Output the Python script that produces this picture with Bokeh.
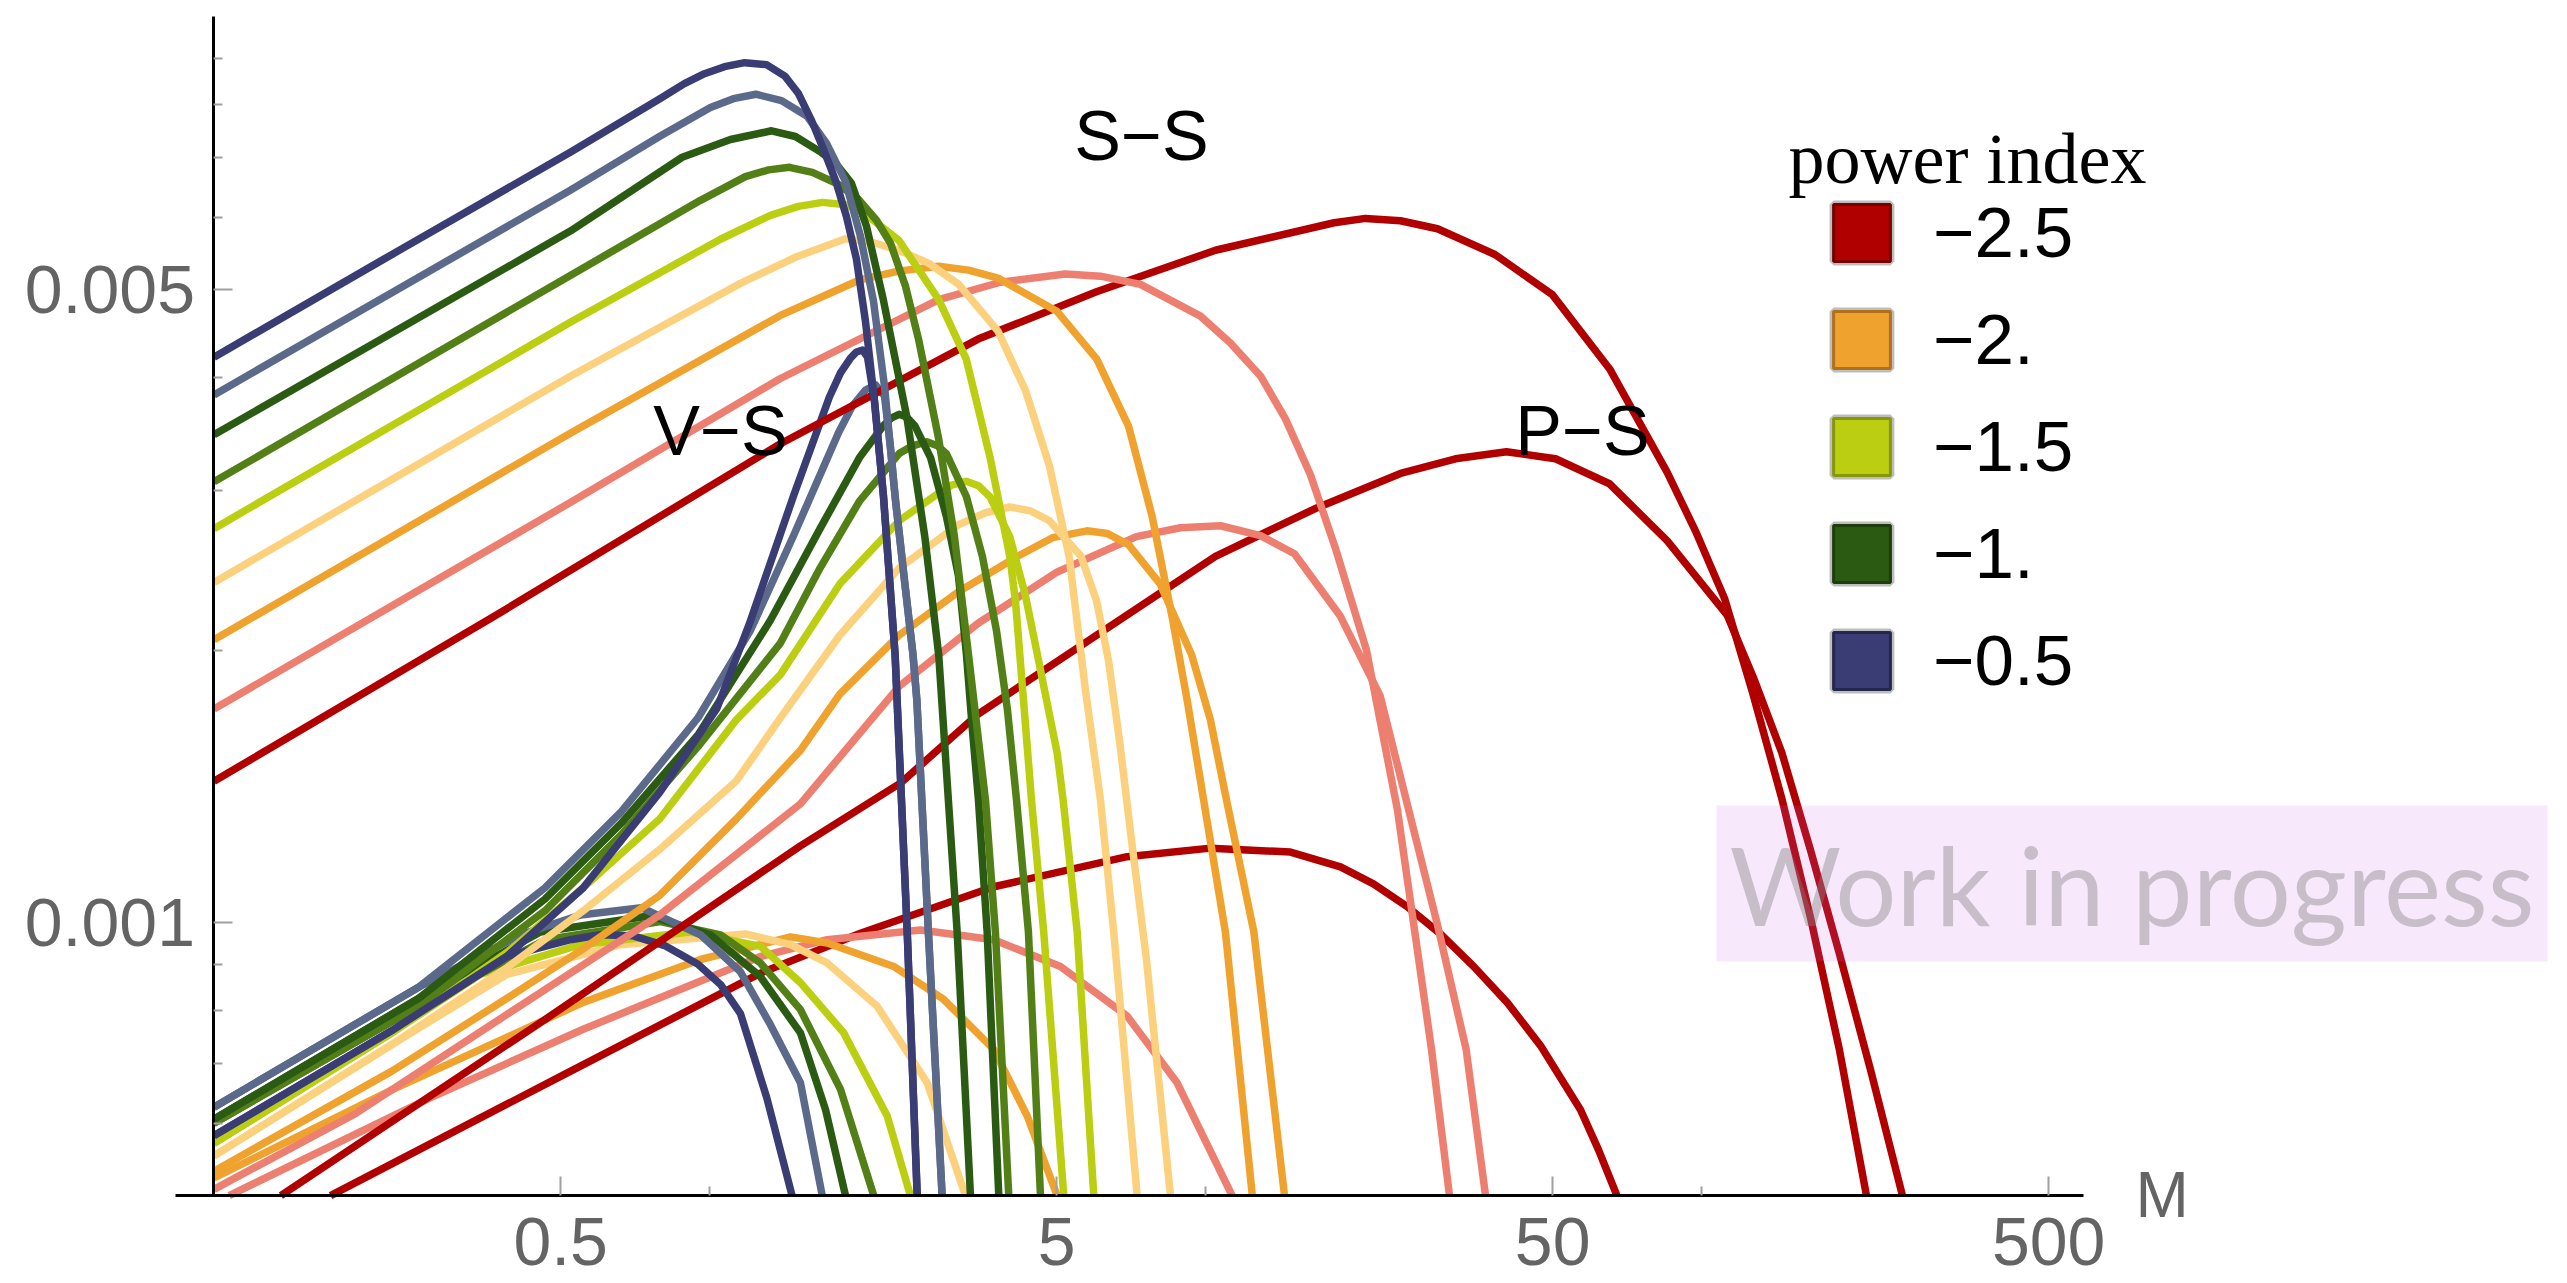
from bokeh.plotting import figure
from bokeh.models import (FixedTicker, CustomJSTickFormatter, Label, Legend,
                          LegendItem, Range1d)
from bokeh.embed import file_html
from bokeh.resources import INLINE

# power indices and their colours
POWER_INDEX = [-2.5, -2.25, -2.0, -1.75, -1.5, -1.25, -1.0, -0.75, -0.5]
COLORS = ["#B00000", "#ED7F71", "#F0A22F", "#FCD17E", "#BCCE12",
          "#537F17", "#2B5B12", "#5B6A8A", "#3A3C74"]

# ---------------- S-S ----------------
SS_M_250 = [0.1, 0.356, 1.387, 3.473, 6.015, 10.45, 18.13, 20.97, 24.67, 29.29, 38.24, 49.92, 65.14, 85.04, 97.0, 111.0, 126.4, 144.9, 165.5, 189.2, 214.6]
SS_Y_250 = [0.001433, 0.002157, 0.003378, 0.004408, 0.004971, 0.005524, 0.005924, 0.005990, 0.005954, 0.005834, 0.005465, 0.004935, 0.004086, 0.003143, 0.002708, 0.002282, 0.001797, 0.001371, 0.001013, 0.000725, 0.0005]
SS_M_225 = [0.1, 0.524, 1.387, 2.892, 3.851, 5.201, 6.128, 7.379, 9.748, 11.20, 12.88, 14.46, 16.24, 18.25, 21.07, 24.33, 28.49, 30.97]
SS_Y_225 = [0.001722, 0.002912, 0.003988, 0.004873, 0.005093, 0.005200, 0.005172, 0.005066, 0.004673, 0.004364, 0.004014, 0.003599, 0.003122, 0.002588, 0.001998, 0.001331, 0.000725, 0.0005]
SS_M_200 = [0.1, 0.524, 1.387, 2.002, 2.399, 2.892, 3.320, 3.807, 5.014, 6.023, 6.979, 7.791, 8.535, 9.165, 10.95, 12.40]
SS_Y_200 = [0.002053, 0.003473, 0.004681, 0.005122, 0.005239, 0.005305, 0.005252, 0.005148, 0.004727, 0.004189, 0.003534, 0.002807, 0.002184, 0.001760, 0.000975, 0.0005]
SS_M_175 = [0.1, 0.524, 1.152, 1.487, 1.876, 2.126, 2.406, 2.757, 3.170, 3.807, 4.326, 4.834, 5.297, 5.716, 6.128, 6.519, 7.266]
SS_Y_175 = [0.002375, 0.004014, 0.005078, 0.005427, 0.005689, 0.005638, 0.005521, 0.005346, 0.005069, 0.004498, 0.003868, 0.003196, 0.002538, 0.001806, 0.001366, 0.000975, 0.0005]
SS_M_150 = [0.1, 0.524, 1.050, 1.324, 1.508, 1.686, 1.876, 2.002, 2.406, 2.892, 3.286, 3.671, 4.022, 4.129, 4.287, 4.449, 4.710, 5.168]
SS_Y_150 = [0.002723, 0.004603, 0.005681, 0.006036, 0.006176, 0.006239, 0.006200, 0.006129, 0.005662, 0.004873, 0.004189, 0.003262, 0.002538, 0.002268, 0.001760, 0.001366, 0.000975, 0.0005]
SS_M_125 = [0.1, 0.524, 0.957, 1.179, 1.312, 1.446, 1.609, 1.816, 1.993, 2.166, 2.312, 2.479, 2.633, 2.889, 3.111, 3.320, 3.593, 3.763, 4.003]
SS_Y_125 = [0.003067, 0.005185, 0.006271, 0.006660, 0.006776, 0.006820, 0.006734, 0.006531, 0.006287, 0.005961, 0.005623, 0.005041, 0.004408, 0.003429, 0.002668, 0.001978, 0.001366, 0.000975, 0.0005]
SS_M_100 = [0.1, 0.524, 0.879, 1.100, 1.331, 1.487, 1.670, 1.799, 1.929, 2.068, 2.236, 2.496, 2.711, 2.892, 3.151, 3.351]
SS_Y_100 = [0.003456, 0.005804, 0.006997, 0.007320, 0.007484, 0.007376, 0.007094, 0.006871, 0.006547, 0.005871, 0.004873, 0.003606, 0.002668, 0.001975, 0.000975, 0.0005]
SS_M_075 = [0.1, 0.524, 0.7925, 1.002, 1.115, 1.237, 1.394, 1.570, 1.718, 1.876, 2.011, 2.136, 2.248, 2.362, 2.467, 2.566, 2.613, 2.757, 2.938]
SS_Y_075 = [0.003825, 0.006439, 0.007379, 0.007940, 0.008121, 0.008213, 0.008080, 0.007766, 0.007246, 0.006580, 0.005724, 0.004855, 0.003913, 0.002953, 0.002387, 0.001978, 0.001760, 0.000975, 0.0005]
SS_M_050 = [0.1, 0.229, 0.524, 0.7925, 0.888, 0.975, 1.070, 1.175, 1.300, 1.416, 1.508, 1.603, 1.694, 1.794, 1.884, 1.974, 2.058, 2.146, 2.238, 2.362, 2.499, 2.617]
SS_Y_050 = [0.00421, 0.00547, 0.00709, 0.00812, 0.008436, 0.008652, 0.008808, 0.008898, 0.008854, 0.00860, 0.008226, 0.00768, 0.007138, 0.00658, 0.00602, 0.005401, 0.004614, 0.003767, 0.002953, 0.001975, 0.000975, 0.0005]

# ---------------- V-S ----------------
VS_M_250 = [0.1364, 0.4647, 1.522, 2.421, 3.473, 6.023, 10.45, 16.53, 24.67, 31.85, 40.35, 50.66, 65.08, 85.04, 112.5, 127.6, 144.9, 165.5, 189.2, 218.6, 253.6]
VS_Y_250 = [0.0005, 0.000782, 0.001216, 0.001426, 0.001700, 0.002077, 0.002538, 0.002862, 0.003133, 0.003252, 0.003310, 0.003252, 0.003052, 0.002641, 0.002184, 0.001852, 0.001540, 0.001203, 0.000925, 0.000689, 0.0005]
VS_M_225 = [0.1, 0.1911, 0.3892, 0.7917, 1.522, 2.406, 3.473, 5.014, 7.240, 8.883, 10.70, 12.88, 15.08, 18.62, 22.44, 25.64, 29.29, 33.46, 36.61]
VS_Y_225 = [0.000508, 0.000614, 0.000792, 0.001020, 0.001353, 0.001824, 0.002141, 0.002439, 0.002668, 0.002729, 0.002743, 0.002675, 0.002555, 0.002184, 0.001781, 0.001331, 0.000995, 0.000725, 0.0005]
VS_M_200 = [0.1, 0.2284, 0.3892, 0.5552, 0.7917, 1.130, 1.522, 1.827, 2.406, 3.170, 4.173, 4.904, 5.754, 6.330, 6.979, 8.082, 9.358, 10.21, 11.00, 12.49, 14.40]
VS_Y_200 = [0.000532, 0.000686, 0.000825, 0.000936, 0.001072, 0.001302, 0.001550, 0.001788, 0.002077, 0.002319, 0.002538, 0.002661, 0.002708, 0.002689, 0.002615, 0.002366, 0.001975, 0.001674, 0.001366, 0.000977, 0.0005]
VS_M_175 = [0.1, 0.2284, 0.3892, 0.5552, 0.7917, 1.130, 1.387, 1.827, 2.406, 3.170, 3.593, 4.022, 4.429, 4.834, 5.598, 6.015, 6.359, 6.692, 7.077, 7.586, 8.480]
VS_Y_175 = [0.000553, 0.000734, 0.000892, 0.001031, 0.001205, 0.001434, 0.001683, 0.002077, 0.002463, 0.002750, 0.002835, 0.002877, 0.002849, 0.002778, 0.002538, 0.002268, 0.001949, 0.001591, 0.001234, 0.000911, 0.0005]
VS_M_150 = [0.1, 0.2284, 0.3892, 0.5552, 0.7917, 1.130, 1.387, 1.827, 2.406, 2.892, 3.082, 3.286, 3.478, 3.671, 4.022, 4.326, 4.659, 5.014, 5.153, 5.500, 5.940]
VS_Y_150 = [0.000571, 0.000756, 0.000927, 0.001093, 0.001302, 0.001675, 0.001879, 0.002366, 0.002778, 0.002980, 0.003044, 0.003071, 0.003037, 0.002951, 0.002668, 0.002296, 0.001879, 0.001538, 0.001366, 0.000977, 0.0005]
VS_M_125 = [0.1, 0.2585, 0.4647, 0.6633, 0.9458, 1.387, 1.667, 2.002, 2.406, 2.560, 2.736, 2.875, 2.998, 3.289, 3.543, 3.780, 3.980, 4.150, 4.386, 4.638]
VS_Y_125 = [0.000601, 0.000809, 0.001031, 0.001252, 0.001565, 0.002036, 0.002463, 0.002920, 0.003295, 0.003361, 0.003395, 0.003361, 0.003294, 0.002953, 0.002536, 0.002103, 0.001716, 0.001366, 0.000977, 0.0005]
VS_M_100 = [0.1, 0.2585, 0.4647, 0.6633, 0.9458, 1.324, 1.667, 2.002, 2.236, 2.323, 2.406, 2.490, 2.589, 2.784, 2.998, 3.170, 3.289, 3.382, 3.478, 3.621, 3.822]
VS_Y_100 = [0.000607, 0.000825, 0.001062, 0.001289, 0.001612, 0.002157, 0.002723, 0.003262, 0.003536, 0.003608, 0.003641, 0.003617, 0.003536, 0.003262, 0.002807, 0.002414, 0.001978, 0.001632, 0.001366, 0.000977, 0.0005]
VS_M_075 = [0.1, 0.2585, 0.4647, 0.6633, 0.9458, 1.207, 1.476, 1.816, 1.938, 2.058, 2.157, 2.248, 2.312, 2.362, 2.467, 2.566, 2.613, 2.757, 2.938]
VS_Y_075 = [0.000626, 0.000849, 0.001093, 0.001327, 0.001683, 0.002103, 0.002679, 0.003475, 0.003720, 0.003873, 0.003923, 0.003815, 0.003344, 0.002953, 0.002387, 0.001978, 0.001760, 0.000975, 0.0005]
VS_M_050 = [0.1, 0.228, 0.389, 0.555, 0.792, 1.033, 1.200, 1.476, 1.741, 1.833, 1.920, 1.974, 2.030, 2.078, 2.146, 2.238, 2.362, 2.499, 2.617]
VS_Y_050 = [0.000582, 0.000760, 0.000918, 0.001093, 0.001393, 0.001725, 0.002136, 0.002966, 0.003805, 0.004045, 0.004200, 0.004266, 0.004287, 0.004210, 0.003767, 0.002953, 0.001975, 0.000975, 0.0005]

# ---------------- P-S ----------------
PS_M_250 = [0.1718, 0.5078, 1.264, 2.011, 3.734, 6.935, 10.21, 14.80, 18.67, 21.76, 25.45, 29.71, 34.66, 40.54, 47.25, 56.89, 61.83, 67.38]
PS_Y_250 = [0.0005, 0.000680, 0.000880, 0.000974, 0.001096, 0.001183, 0.001209, 0.001197, 0.001153, 0.001104, 0.001042, 0.000972, 0.000895, 0.000816, 0.000732, 0.000622, 0.000562, 0.0005]
PS_M_225 = [0.1073, 0.2728, 0.5552, 1.264, 1.723, 2.657, 3.734, 5.089, 6.935, 8.746, 11.29]
PS_Y_225 = [0.0005, 0.000641, 0.000763, 0.000918, 0.000958, 0.000982, 0.000958, 0.000895, 0.000789, 0.000666, 0.0005]
PS_M_200 = [0.1, 0.2284, 0.5552, 0.957, 1.453, 1.723, 2.347, 2.960, 3.734, 4.361, 5.012]
PS_Y_200 = [0.000523, 0.000654, 0.000817, 0.000911, 0.000965, 0.000950, 0.000895, 0.000823, 0.000725, 0.000612, 0.0005]
PS_M_175 = [0.1, 0.2284, 0.3892, 0.6603, 1.179, 1.453, 1.723, 2.173, 2.741, 3.274]
PS_Y_175 = [0.000553, 0.000734, 0.000877, 0.000946, 0.000972, 0.000946, 0.000903, 0.000809, 0.000666, 0.0005]
PS_M_150 = [0.1, 0.2284, 0.3445, 0.5483, 0.9135, 1.264, 1.522, 1.861, 2.277, 2.536]
PS_Y_150 = [0.000571, 0.000756, 0.000877, 0.000946, 0.000977, 0.000942, 0.000859, 0.000756, 0.000612, 0.0005]
PS_M_125 = [0.1, 0.2585, 0.4660, 0.7949, 1.050, 1.264, 1.522, 1.833, 2.139]
PS_Y_125 = [0.000601, 0.000809, 0.000958, 0.001003, 0.000970, 0.000903, 0.000802, 0.000655, 0.0005]
PS_M_100 = [0.1, 0.2585, 0.4553, 0.7586, 1.002, 1.264, 1.522, 1.710, 1.876]
PS_Y_100 = [0.000607, 0.000825, 0.000977, 0.001018, 0.000970, 0.000872, 0.000756, 0.000622, 0.0005]
PS_M_075 = [0.1, 0.2585, 0.4148, 0.5483, 0.7275, 0.957, 1.152, 1.324, 1.522, 1.684]
PS_Y_075 = [0.000626, 0.000849, 0.000970, 0.001020, 0.001039, 0.000970, 0.000883, 0.000772, 0.000666, 0.0005]
PS_M_050 = [0.1, 0.2284, 0.3892, 0.5236, 0.6014, 0.698, 0.8135, 0.9458, 1.050, 1.152, 1.302, 1.464]
PS_Y_050 = [0.000582, 0.000760, 0.000918, 0.000958, 0.000970, 0.000968, 0.000943, 0.000900, 0.000855, 0.000794, 0.000641, 0.0005]

# axis ticks
X_TICKS = [0.5, 5, 50, 500]
X_MINOR = [1, 10, 100]
Y_TICKS = [0.001, 0.005]
Y_MINOR = [0.0006, 0.0007, 0.0008, 0.0009, 0.002, 0.003, 0.004,
           0.006, 0.007, 0.008, 0.009]

# extent of the drawn axes (the curves live in this box)
X_AXIS_BOUNDS = (0.08364, 587.7)
Y_AXIS_BOUNDS = (0.0005, 0.01)
X_ORIGIN = 0.1
Y_ORIGIN = 0.0005

# legend entries
LEGEND_LABELS = ["\u22122.5", "\u22122.", "\u22121.5", "\u22121.", "\u22120.5"]
LEGEND_FILL = ["#B00000", "#F0A22F", "#BCCE12", "#2B5B12", "#3A3C74"]
LEGEND_EDGE = ["#780000", "#B0701C", "#889608", "#1C3E0A", "#25274E"]

FAMILIES = {
    "P-S": [(PS_M_250, PS_Y_250), (PS_M_225, PS_Y_225), (PS_M_200, PS_Y_200),
            (PS_M_175, PS_Y_175), (PS_M_150, PS_Y_150), (PS_M_125, PS_Y_125),
            (PS_M_100, PS_Y_100), (PS_M_075, PS_Y_075), (PS_M_050, PS_Y_050)],
    "V-S": [(VS_M_250, VS_Y_250), (VS_M_225, VS_Y_225), (VS_M_200, VS_Y_200),
            (VS_M_175, VS_Y_175), (VS_M_150, VS_Y_150), (VS_M_125, VS_Y_125),
            (VS_M_100, VS_Y_100), (VS_M_075, VS_Y_075), (VS_M_050, VS_Y_050)],
    "S-S": [(SS_M_250, SS_Y_250), (SS_M_225, SS_Y_225), (SS_M_200, SS_Y_200),
            (SS_M_175, SS_Y_175), (SS_M_150, SS_Y_150), (SS_M_125, SS_Y_125),
            (SS_M_100, SS_Y_100), (SS_M_075, SS_Y_075), (SS_M_050, SS_Y_050)],
}

# the plotting frame covers the whole canvas; axes are placed at fixed data positions
p = figure(width=2567, height=1283,
           x_axis_type="log", y_axis_type="log",
           x_range=Range1d(0.037123, 5558.7), y_range=Range1d(0.0003999, 0.010421),
           min_border_left=0, min_border_right=0,
           min_border_top=0, min_border_bottom=0,
           output_backend="svg", toolbar_location=None)
p.outline_line_color = None
p.grid.visible = False
p.background_fill_color = "white"
p.border_fill_color = "white"

for fam in ["P-S", "V-S", "S-S"]:
    for (m, y), col in zip(FAMILIES[fam], COLORS):
        p.line(m, y, line_color=col, line_width=7.5, line_join="round")

fmt = CustomJSTickFormatter(code="return String(tick);")

xa = p.xaxis[0]
xa.fixed_location = Y_ORIGIN
xa.bounds = X_AXIS_BOUNDS
xa.ticker = FixedTicker(ticks=X_TICKS, minor_ticks=X_MINOR)
xa.formatter = fmt
xa.major_label_standoff = 22

ya = p.yaxis[0]
ya.fixed_location = X_ORIGIN
ya.bounds = Y_AXIS_BOUNDS
ya.ticker = FixedTicker(ticks=Y_TICKS, minor_ticks=Y_MINOR)
ya.formatter = fmt
ya.major_label_standoff = 19

for ax in (xa, ya):
    ax.axis_line_color = "black"
    ax.axis_line_width = 3
    ax.major_tick_in = 19
    ax.major_tick_out = 0
    ax.minor_tick_in = 9
    ax.minor_tick_out = 0
    ax.major_tick_line_color = "#A0A0A0"
    ax.major_tick_line_width = 2
    ax.minor_tick_line_color = "#A0A0A0"
    ax.minor_tick_line_width = 2
    ax.major_label_text_font = "Liberation Sans"
    ax.major_label_text_font_size = "68px"
    ax.major_label_text_color = "#646464"

# curve family labels
for txt, sx, sy in [("S\u2212S", 1141, 1148), ("V\u2212S", 720, 853), ("P\u2212S", 1582, 853)]:
    p.add_layout(Label(x=sx, y=sy, x_units="screen", y_units="screen", text=txt,
                       text_align="center", text_baseline="middle",
                       text_font="Liberation Sans", text_font_size="70px",
                       text_color="black"))

# axis name
p.add_layout(Label(x=2135, y=89, x_units="screen", y_units="screen", text="M",
                   text_align="left", text_baseline="middle",
                   text_font="Liberation Sans", text_font_size="64px",
                   text_color="#646464"))

# legend (swatches reference one row placed beyond the visible range)
items = []
for lab, fc, ec in zip(LEGEND_LABELS, LEGEND_FILL, LEGEND_EDGE):
    r_out = p.quad(left=[1e5], right=[2e5], top=[0.002], bottom=[0.001], fill_alpha=0,
                   line_color="#BDBDBD", line_width=8)
    r_in = p.quad(left=[1e5], right=[2e5], top=[0.002], bottom=[0.001], fill_color=fc,
                  line_color=ec, line_width=3)
    items.append(LegendItem(label=lab, renderers=[r_out, r_in]))

legend = Legend(items=items, location=(1826, 582),
                glyph_width=71, glyph_height=71, label_height=71,
                label_standoff=36, spacing=26, padding=0, margin=0,
                border_line_color=None, background_fill_alpha=0,
                label_text_font="Liberation Sans", label_text_font_size="71px",
                label_text_color="black")
p.add_layout(legend)

p.add_layout(Label(x=1788, y=1125, x_units="screen", y_units="screen",
                   text="power index", text_align="left", text_baseline="alphabetic",
                   text_font="Liberation Serif", text_font_size="72px",
                   text_color="black"))

# watermark
p.add_layout(Label(x=1716, y=400, x_units="screen", y_units="screen",
                   text="Work in progress", text_align="left",
                   text_baseline="alphabetic", text_font="Lato",
                   text_font_size="108px", text_color="#808080", text_alpha=0.4,
                   background_fill_color="#CC66EE", background_fill_alpha=0.15,
                   padding=13))

open("out.html", "w").write(file_html(p, INLINE))
